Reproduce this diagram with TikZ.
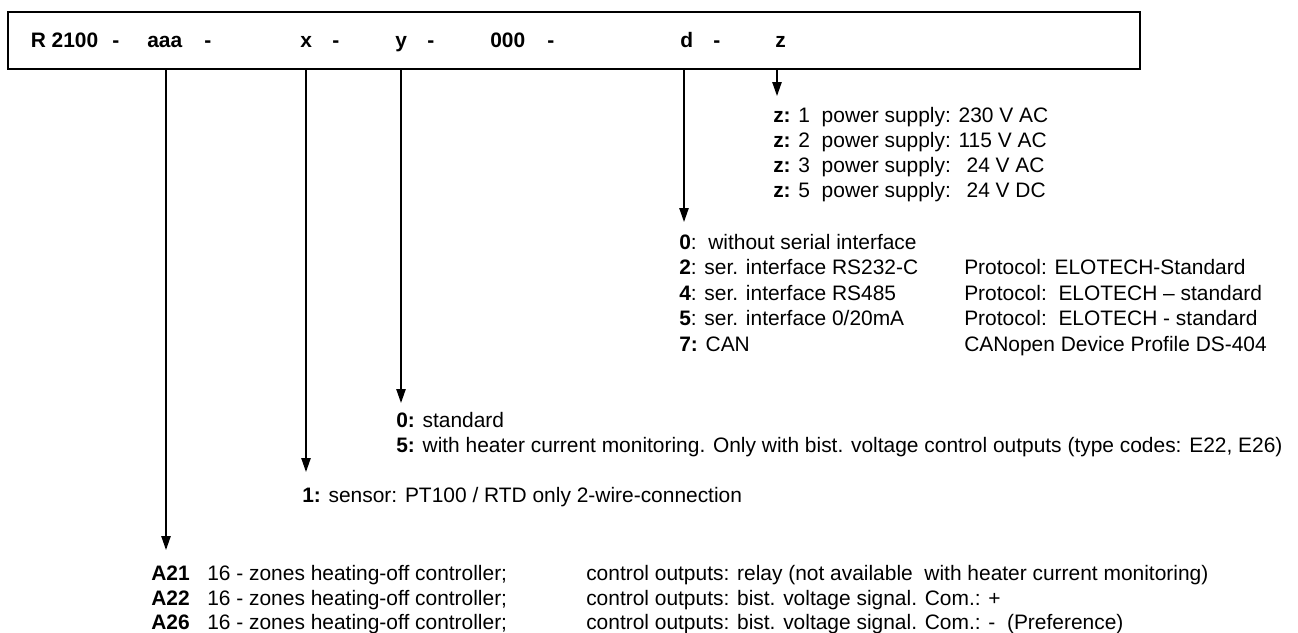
\documentclass[tikz,border=0pt]{standalone}
\usepackage{fontspec}
\setmainfont{Liberation Sans}
\usetikzlibrary{arrows.meta}
\begin{document}
\begin{tikzpicture}[x=0.75pt,y=-0.75pt,
  txt/.style={anchor=base west,inner sep=0pt,font=\fontsize{15.7}{18}\selectfont},
  hdr/.style={anchor=base west,inner sep=0pt,font=\fontsize{15.7}{18}\selectfont\bfseries},
  conn/.style={line width=1.1pt,-{Triangle[width=7pt,length=10.5pt]}},
  codebox/.style={draw,line width=1.6pt,minimum width=849pt,minimum height=42.75pt,inner sep=0pt}]
\useasboundingbox (0,0) rectangle (1298,632);
\node[codebox] (box) at (574,40.5) {};
% header tokens
\node[hdr] (h1) at (30.5,47) {R 2100};
\node[hdr] (hd0) at (112,47) {-};
\node[hdr] (haaa) at (147,47) {aaa};
\node[hdr] (hd1) at (204,47) {-};
\node[hdr] (hx) at (300,47) {x};
\node[hdr] (hd2) at (332,47) {-};
\node[hdr] (hy) at (395,47) {y};
\node[hdr] (hd3) at (427,47) {-};
\node[hdr] (h000) at (490,47) {000};
\node[hdr] (hd4) at (547,47) {-};
\node[hdr] (hdd) at (680,47) {d};
\node[hdr] (hd5) at (713,47) {-};
\node[hdr] (hz) at (775,47) {z};
% arrow tips
\coordinate (taaa) at (166,550);
\coordinate (tx) at (306,472);
\coordinate (ty) at (401,403);
\coordinate (td) at (684,222);
\coordinate (tz) at (777,96);
\draw[conn] (box.south -| taaa) -- (taaa);
\draw[conn] (box.south -| tx) -- (tx);
\draw[conn] (box.south -| ty) -- (ty);
\draw[conn] (box.south -| td) -- (td);
\draw[conn] (box.south -| tz) -- (tz);
% z block
\node[txt] (z1) at (773,122) {\textbf{z:} 1\ \ power supply: 230 V AC};
\node[txt] (z2) at (773,147) {\textbf{z:} 2\ \ power supply: 115 V AC};
\node[txt] (z3) at (773,172) {\textbf{z:} 3\ \ power supply: \hspace{6pt}24 V AC};
\node[txt] (z5) at (773,197) {\textbf{z:} 5\ \ power supply: \hspace{6pt}24 V DC};
% d block
\node[txt] (d0) at (679,249) {\textbf{0}:\ \ without serial interface};
\node[txt] (d2) at (679,274) {\textbf{2}: ser. interface RS232-C};
\node[txt] (d4) at (679,300) {\textbf{4}: ser. interface RS485};
\node[txt] (d5) at (679,325) {\textbf{5}: ser. interface 0/20mA};
\node[txt] (d7) at (679,351) {\textbf{7:} CAN};
\node[txt] (p2) at (964,274) {Protocol: ELOTECH-Standard};
\node[txt] (p4) at (964,300) {Protocol:\ \ ELOTECH – standard};
\node[txt] (p5) at (964,325) {Protocol:\ \ ELOTECH - standard};
\node[txt] (p7) at (964,351) {CANopen Device Profile DS-404};
% y block
\node[txt] (y0) at (396,427) {\textbf{0:} standard};
\node[txt] (y5) at (396,452) {\textbf{5:} with heater current monitoring. Only with bist. voltage control outputs (type codes: E22, E26)};
% x block
\node[txt] (x1) at (302,502) {\textbf{1:} sensor: PT100 / RTD only 2-wire-connection};
% aaa block
\node[txt] (a21) at (151,580) {\textbf{A21}};
\node[txt] (a22) at (151,605) {\textbf{A22}};
\node[txt] (a26) at (151,629) {\textbf{A26}};
\node[txt] (a21b) at (207,580) {16 - zones heating-off controller;};
\node[txt] (a22b) at (207,605) {16 - zones heating-off controller;};
\node[txt] (a26b) at (207,629) {16 - zones heating-off controller;};
\node[txt] (a21c) at (586,580) {control outputs: relay (not available\ \ with heater current monitoring)};
\node[txt] (a22c) at (586,605) {control outputs: bist. voltage signal. Com.: +};
\node[txt] (a26c) at (586,629) {control outputs: bist. voltage signal. Com.: -\ \ (Preference)};
\end{tikzpicture}
\end{document}
